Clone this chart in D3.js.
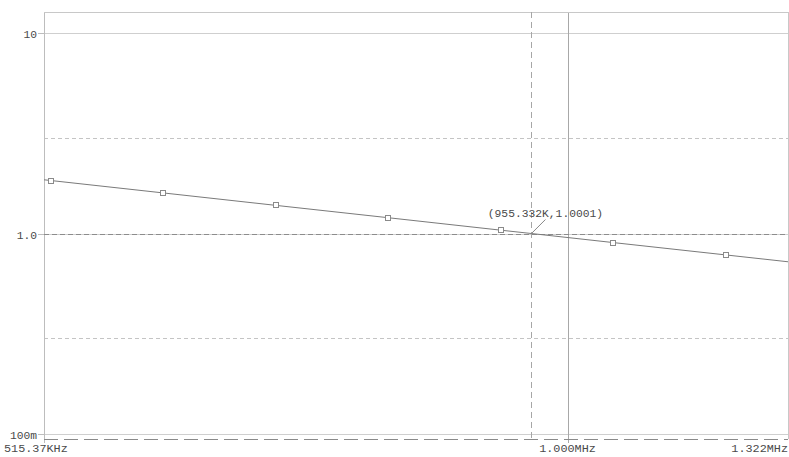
<!DOCTYPE html>
<html>
<head>
<meta charset="utf-8">
<script src="https://cdn.jsdelivr.net/npm/d3@7"></script>
<style>
  html, body { margin: 0; padding: 0; background: #fff; }
  svg { display: block; }
  text { font-family: "Liberation Mono", "DejaVu Sans Mono", monospace; fill: #4a4a4a; }
</style>
</head>
<body>
<svg id="chart" width="789" height="457"></svg>
<script>
// Frequency sweep (Hz) and response magnitude
const freqHz = [515370, 519960, 599500, 691200, 797000, 919200, 955332, 1059900, 1222100, 1322000];
const magnitude = [1.854, 1.838, 1.594, 1.382, 1.199, 1.039, 1.0001, 0.901, 0.782, 0.723];
const marked = [false, true, true, true, true, true, false, true, true, false];

// Axis extents and labels
const xDomain = [515370, 1322000];
const yDomain = [0.0944, 12.74];
const yMajorTicks = [10, 1, 0.1];
const yMajorLabels = ["10", "1.0", "100m"];
const yMinorTicks = [3, 0.3];
const xTicks = [515370, 1000000, 1322000];
const xTickLabels = ["515.37KHz", "1.000MHz", "1.322MHz"];

// Cursor readout
const cursorFreq = 955332;
const cursorValue = 1.0001;
const cursorLabel = "(955.332K,1.0001)";

const svg = d3.select("#chart");
const plot = { left: 44, right: 788, top: 12, bottom: 439 };

const x = d3.scaleLog().domain(xDomain).range([plot.left, plot.right]);
const y = d3.scaleLog().domain(yDomain).range([plot.bottom, plot.top]);

// Minor (dashed) horizontal grid
svg.append("g").selectAll("line").data(yMinorTicks).join("line")
  .attr("x1", plot.left).attr("x2", plot.right)
  .attr("y1", d => Math.round(y(d)) + 0.5).attr("y2", d => Math.round(y(d)) + 0.5)
  .attr("stroke", "#c4c4c4").attr("stroke-width", 1).attr("stroke-dasharray", "4,3");

// Major horizontal grid
svg.append("g").selectAll("line").data(yMajorTicks).join("line")
  .attr("x1", plot.left).attr("x2", plot.right)
  .attr("y1", d => Math.round(y(d)) + 0.5).attr("y2", d => Math.round(y(d)) + 0.5)
  .attr("stroke", "#cfcfcf").attr("stroke-width", 1);

// Vertical grid at 1 MHz
svg.append("line")
  .attr("x1", Math.round(x(1e6)) + 0.5).attr("x2", Math.round(x(1e6)) + 0.5)
  .attr("y1", plot.top).attr("y2", plot.bottom + 4)
  .attr("stroke", "#a8a8a8").attr("stroke-width", 1);

// Frame
svg.append("line").attr("x1", plot.left + 0.5).attr("x2", plot.left + 0.5)
  .attr("y1", plot.top).attr("y2", plot.bottom + 4).attr("stroke", "#bdbdbd");
svg.append("line").attr("x1", plot.left).attr("x2", plot.right)
  .attr("y1", plot.top + 0.5).attr("y2", plot.top + 0.5).attr("stroke", "#c8c8c8");
svg.append("line").attr("x1", plot.right + 0.5).attr("x2", plot.right + 0.5)
  .attr("y1", plot.top).attr("y2", plot.bottom).attr("stroke", "#c8c8c8");
svg.append("line").attr("x1", plot.left).attr("x2", plot.right)
  .attr("y1", plot.bottom + 0.5).attr("y2", plot.bottom + 0.5)
  .attr("stroke", "#8a8a8a").attr("stroke-dasharray", "14,6");

// Y tick marks and labels
const yAxisG = svg.append("g");
yMajorTicks.forEach((t, i) => {
  const yy = Math.round(y(t)) + 0.5;
  yAxisG.append("line").attr("x1", plot.left - 6).attr("x2", plot.left)
    .attr("y1", yy).attr("y2", yy).attr("stroke", "#bdbdbd");
  yAxisG.append("text").attr("x", plot.left - 7).attr("y", yy + 4)
    .attr("text-anchor", "end").attr("font-size", 11.3).text(yMajorLabels[i]);
});

// X tick labels
xTicks.forEach((t, i) => {
  const anchor = i === 0 ? "start" : (i === xTicks.length - 1 ? "end" : "middle");
  const xx = i === 0 ? 4 : (i === xTicks.length - 1 ? 788 : x(t));
  svg.append("text").attr("x", xx).attr("y", 452)
    .attr("text-anchor", anchor).attr("font-size", 11.8).text(xTickLabels[i]);
});

// Cursor cross-hair
svg.append("line")
  .attr("x1", Math.round(x(cursorFreq)) + 0.5).attr("x2", Math.round(x(cursorFreq)) + 0.5)
  .attr("y1", plot.top).attr("y2", plot.bottom)
  .attr("stroke", "#a6a6a6").attr("stroke-dasharray", "6,4");
svg.append("line")
  .attr("x1", plot.left).attr("x2", plot.right)
  .attr("y1", Math.round(y(cursorValue)) + 0.5).attr("y2", Math.round(y(cursorValue)) + 0.5)
  .attr("stroke", "#8c8c8c").attr("stroke-dasharray", "5,3");

// Response trace
const pts = freqHz.map((f, i) => ({ f, v: magnitude[i], m: marked[i] }));
svg.append("path").datum(pts)
  .attr("d", d3.line().x(d => x(d.f)).y(d => y(d.v)))
  .attr("fill", "none").attr("stroke", "#7a7a7a").attr("stroke-width", 1);

// Point markers
svg.append("g").selectAll("rect").data(pts.filter(d => d.m)).join("rect")
  .attr("x", d => Math.round(x(d.f)) - 2.5).attr("y", d => Math.round(y(d.v)) - 2.5)
  .attr("width", 5).attr("height", 5)
  .attr("fill", "#fff").attr("stroke", "#8a8a8a").attr("stroke-width", 1);

// Cursor readout label with leader
const cx = x(cursorFreq), cy = y(cursorValue);
svg.append("line")
  .attr("x1", cx).attr("y1", cy)
  .attr("x2", cx + 14).attr("y2", cy - 14)
  .attr("stroke", "#888");
svg.append("text").attr("x", cx + 14).attr("y", cy - 17)
  .attr("text-anchor", "middle").attr("font-size", 11.3).text(cursorLabel);
</script>
</body>
</html>
